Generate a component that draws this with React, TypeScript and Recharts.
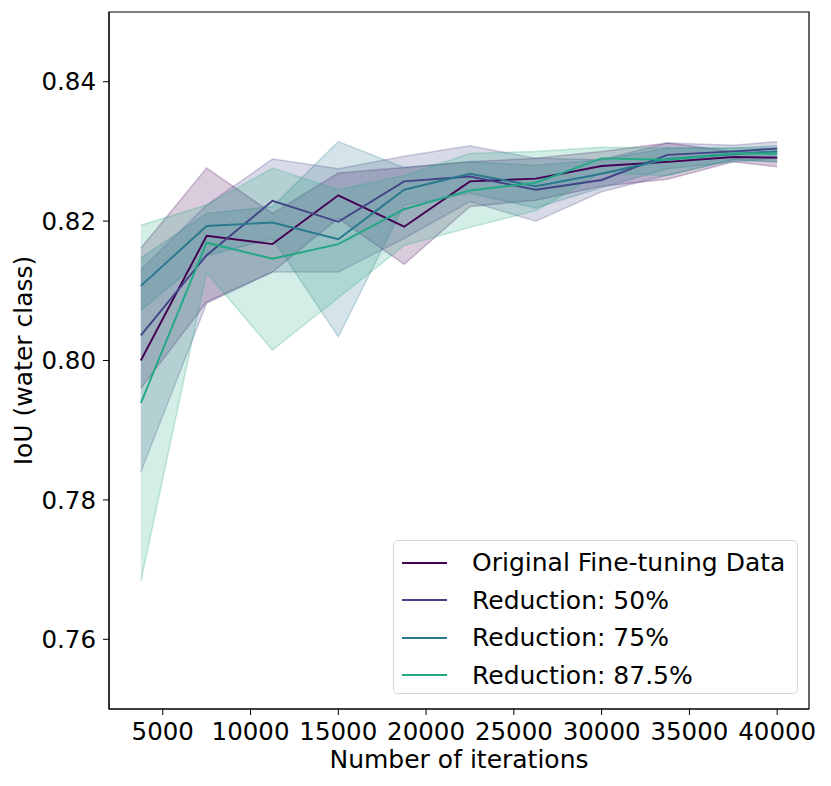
import { ComposedChart, Line, Area, XAxis, YAxis, ReferenceArea } from 'recharts';

const FONT = '"DejaVu Sans", sans-serif';

// iterations at which the models were evaluated
const ITERATIONS = [3750, 7500, 11250, 15000, 18750, 22500, 26250, 30000, 33750, 37500, 40000];

const ORIG_MEAN = [0.8, 0.8179, 0.8167, 0.8237, 0.8192, 0.8257, 0.8261, 0.8279, 0.8285, 0.8292, 0.8291];
const ORIG_LO = [0.796, 0.8084, 0.8127, 0.8204, 0.8138, 0.8221, 0.823, 0.825, 0.826, 0.8285, 0.8278];
const ORIG_HI = [0.8161, 0.8276, 0.8211, 0.8269, 0.8277, 0.8285, 0.829, 0.83, 0.8312, 0.83, 0.83];

const R50_MEAN = [0.8036, 0.8151, 0.8229, 0.8199, 0.8257, 0.8264, 0.8245, 0.8259, 0.8295, 0.83, 0.8304];
const R50_LO = [0.784, 0.8082, 0.8127, 0.8127, 0.8175, 0.8228, 0.82, 0.8242, 0.8266, 0.8288, 0.8285];
const R50_HI = [0.813, 0.8223, 0.8289, 0.8275, 0.8293, 0.8308, 0.829, 0.8288, 0.8312, 0.8309, 0.8314];

const R75_MEAN = [0.8107, 0.8193, 0.8198, 0.8174, 0.8245, 0.8268, 0.825, 0.8268, 0.8289, 0.8296, 0.83];
const R75_LO = [0.8072, 0.815, 0.8175, 0.8034, 0.8223, 0.824, 0.8219, 0.8248, 0.8275, 0.8285, 0.829];
const R75_HI = [0.8147, 0.8211, 0.8221, 0.8314, 0.8277, 0.8285, 0.828, 0.8288, 0.8305, 0.8305, 0.8308];

const R875_MEAN = [0.7939, 0.8169, 0.8146, 0.8167, 0.8217, 0.8244, 0.8255, 0.829, 0.8288, 0.8297, 0.8297];
const R875_LO = [0.7683, 0.8126, 0.8015, 0.809, 0.8165, 0.8191, 0.8215, 0.827, 0.8265, 0.8288, 0.8285];
const R875_HI = [0.8194, 0.8223, 0.8276, 0.8245, 0.8265, 0.8297, 0.83, 0.8306, 0.8305, 0.8305, 0.8305];

const X_TICKS = [5000, 10000, 15000, 20000, 25000, 30000, 35000, 40000];
const Y_TICKS = [0.76, 0.78, 0.8, 0.82, 0.84];
const X_DOMAIN: [number, number] = [1937.5, 41812.5];
const Y_DOMAIN: [number, number] = [0.75, 0.85];

const SERIES = [
  { key: 'orig', name: 'Original Fine-tuning Data', color: '#440154', mean: ORIG_MEAN, lo: ORIG_LO, hi: ORIG_HI },
  { key: 'r50', name: 'Reduction: 50%', color: '#414487', mean: R50_MEAN, lo: R50_LO, hi: R50_HI },
  { key: 'r75', name: 'Reduction: 75%', color: '#2a788e', mean: R75_MEAN, lo: R75_LO, hi: R75_HI },
  { key: 'r875', name: 'Reduction: 87.5%', color: '#22a884', mean: R875_MEAN, lo: R875_LO, hi: R875_HI },
];

const data = ITERATIONS.map((it, i) => {
  const row: Record<string, any> = { it };
  SERIES.forEach((s) => {
    row[s.key] = s.mean[i];
    row[`${s.key}Band`] = [s.lo[i], s.hi[i]];
  });
  return row;
});

const TICK_STYLE = { fontSize: 24.5, fill: '#000', fontFamily: FONT };
const LABEL_SIZE = 25;

const App = () => {
  return (
    <div style={{ position: 'absolute', left: 0, top: 0, width: 831, height: 786, fontFamily: FONT, background: '#fff' }}>
      <ComposedChart width={831} height={786} data={data} margin={{ top: 12, right: 22, bottom: 0, left: 0 }}>
        <XAxis
          dataKey="it"
          type="number"
          domain={X_DOMAIN}
          ticks={X_TICKS}
          allowDataOverflow
          height={77}
          tick={TICK_STYLE}
          tickSize={6}
          tickMargin={8}
          stroke="#000"
          label={{ value: 'Number of iterations', position: 'insideBottom', offset: 18, fontSize: LABEL_SIZE, fill: '#000', fontFamily: FONT }}
        />
        <YAxis
          type="number"
          domain={Y_DOMAIN}
          ticks={Y_TICKS}
          allowDataOverflow
          width={109}
          tick={TICK_STYLE}
          tickSize={6}
          tickMargin={7}
          stroke="#000"
          tickFormatter={(v: number) => v.toFixed(2)}
          label={{
            value: 'IoU (water class)',
            angle: -90,
            position: 'insideLeft',
            offset: 23,
            fontSize: LABEL_SIZE,
            fill: '#000',
            fontFamily: FONT,
            style: { textAnchor: 'middle' },
          }}
        />
        {SERIES.map((s) => (
          <Area
            key={`${s.key}-band`}
            type="linear"
            dataKey={`${s.key}Band`}
            stroke={s.color}
            strokeOpacity={0.25}
            strokeWidth={1.5}
            fill={s.color}
            fillOpacity={0.2}
            dot={false}
            activeDot={false}
            isAnimationActive={false}
          />
        ))}
        {SERIES.map((s) => (
          <Line
            key={s.key}
            type="linear"
            dataKey={s.key}
            stroke={s.color}
            strokeWidth={1.9}
            dot={false}
            activeDot={false}
            isAnimationActive={false}
          />
        ))}
        <ReferenceArea x1={X_DOMAIN[0]} x2={X_DOMAIN[1]} y1={Y_DOMAIN[0]} y2={Y_DOMAIN[1]} fill="none" stroke="#000" strokeWidth={1.2} />
      </ComposedChart>
      <div
        style={{
          position: 'absolute',
          left: 393,
          top: 540,
          width: 405,
          height: 154,
          boxSizing: 'border-box',
          border: '1.5px solid #d6d6d6',
          borderRadius: 5,
          background: 'rgba(255,255,255,0.8)',
          paddingTop: 3,
        }}
      >
        {SERIES.map((s) => (
          <div key={s.key} style={{ display: 'flex', alignItems: 'center', height: 37.5, fontSize: LABEL_SIZE, color: '#000', whiteSpace: 'nowrap' }}>
            <div style={{ width: 45, height: 2, background: s.color, marginLeft: 8, marginRight: 25 }} />
            <span>{s.name}</span>
          </div>
        ))}
      </div>
    </div>
  );
};

export default App;
